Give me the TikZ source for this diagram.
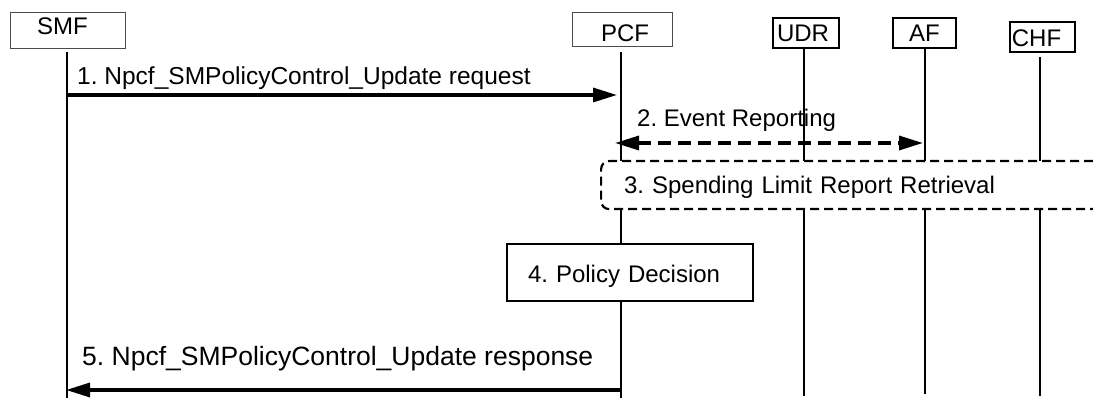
\documentclass[tikz,border=0pt]{standalone}
\usepackage{fontspec}
\setmainfont{Liberation Sans}
\usetikzlibrary{arrows.meta}
\frenchspacing
\begin{document}
\begin{tikzpicture}[x=1pt,y=-1pt,
  every node/.style={font=\fontsize{24}{28}\selectfont, inner sep=0pt},
  thinhead/.style={draw=black!70, line width=0.8pt},
  thickhead/.style={draw=black, line width=1.8pt},
  life/.style={draw=black, line width=1.6pt},
  msg/.style={draw=black, line width=3.3pt, -{Triangle[length=24pt,width=14pt]}},
  dmsg/.style={draw=black, line width=3.3pt, dash pattern=on 13pt off 7pt,
     {Triangle[length=24pt,width=14pt]}-{Triangle[length=24pt,width=14pt]}},
  procbox/.style={draw=black, line width=2pt, fill=white},
  dprocbox/.style={draw=black, line width=2.2pt, fill=white, rounded corners=8pt,
     dash pattern=on 9pt off 5pt},
  lbl/.style={anchor=base west}
]
\useasboundingbox (0,0) rectangle (1093,398);

% header boxes
\node[thinhead, minimum width=115pt, minimum height=36pt, text height=17pt, text depth=7pt] (smf) at (67.5,30) {SMF\hspace*{10pt}};
\node[thinhead, minimum width=100pt, minimum height=34pt, text height=26pt, text depth=0pt] (pcf) at (622,29) {\hspace*{6pt}PCF};
\node[thickhead, minimum width=66pt, minimum height=30pt, text height=18pt, text depth=0pt] (udr) at (806,33) {UDR\hspace*{6pt}};
\node[thickhead, minimum width=63pt, minimum height=30pt, text height=18pt, text depth=0pt] (af) at (924.5,33) {AF};
\node[thickhead, minimum width=65pt, minimum height=30pt, text height=20pt, text depth=0pt] (chf) at (1042.5,37) {CHF\hspace*{12pt}};

% lifeline ends
\coordinate (smfT) at (67,52);   \coordinate (smfB) at (67,398);
\coordinate (pcfT) at (621,52);  \coordinate (pcfB) at (621,398);
\coordinate (udrT) at (804,48);  \coordinate (udrB) at (804,396);
\coordinate (afT)  at (925,48);  \coordinate (afB)  at (925,394);
\coordinate (chfT) at (1040,57); \coordinate (chfB) at (1040,396);

\draw[life] (smfT) -- (smfB);
\draw[life] (pcfT) -- (pcfB);
\draw[life] (udrT) -- (udrB);
\draw[life] (afT) -- (afB);
\draw[life] (chfT) -- (chfB);

% 1
\node[lbl, font=\fontsize{24.5}{28}\selectfont] (l1) at (77,85) {1. Npcf\_SMPolicyControl\_Update request};
\draw[msg, shorten >=4pt] (smfT |- 0,95) -- (pcfT |- 0,95);

% 2
\node[lbl] (l2) at (637,127) {2. Event Reporting};
\draw[dmsg, shorten <=-6pt, shorten >=2pt] (pcfT |- 0,143) -- (afT |- 0,143);

% 3
\node[dprocbox, minimum height=48pt, inner xsep=23pt, text width=454pt, align=left,
      text height=16pt, text depth=0pt, anchor=north west] (s3) at (600,160)
      {3. Spending Limit Report Retrieval};

% 4
\node[procbox, minimum height=57pt, inner xsep=21pt, text width=204pt, align=left,
      text height=21pt, text depth=0pt, anchor=north west] (s4) at (506,243)
      {4. Policy Decision};

% 5
\node[lbl, font=\fontsize{26.5}{30}\selectfont] (l5) at (82,365) {5. Npcf\_SMPolicyControl\_Update response};
\draw[msg, shorten >=-1pt] (pcfT |- 0,390) -- (smfT |- 0,390);
\end{tikzpicture}
\end{document}
